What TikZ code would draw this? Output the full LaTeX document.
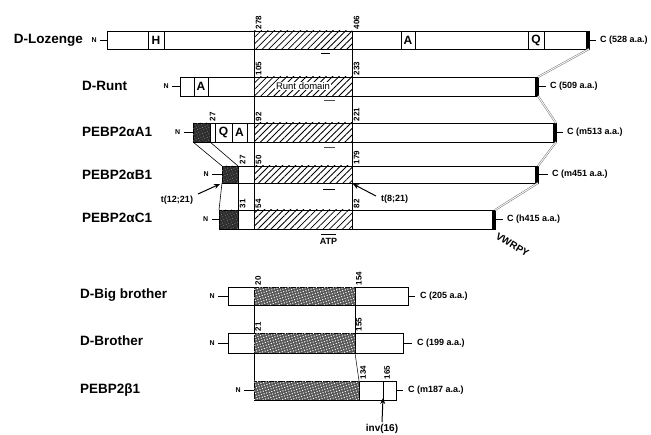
\documentclass[tikz,border=0pt]{standalone}
\usepackage{fontspec}
\setmainfont{Liberation Sans}
\usetikzlibrary{patterns.meta,arrows.meta}
\begin{document}
\begin{tikzpicture}[x=1pt,y=-1pt,
  bar/.style={draw=black,fill=white,line width=0.9pt,inner sep=0pt,outer sep=0pt,anchor=north west},
  lbox/.style={draw=black,line width=0.9pt,inner sep=0pt,outer sep=0pt,anchor=north west,font=\fontsize{12}{12}\selectfont\bfseries},
  box/.style={draw=black,line width=0.9pt},
  hatch/.style={pattern={Lines[angle=45,distance=4.6pt,line width=0.8pt]}},
  darkfill/.style={fill=black!82},
  darkdots/.style={pattern={Dots[radius=0.45pt,distance=2.8pt,angle=25]},pattern color=black!40},
  grain/.style={fill=black!66},
  graindots/.style={pattern={Dots[radius=0.7pt,distance=2.7pt,angle=17]},pattern color=white},
  endbar/.style={line width=2.6pt},
  tick/.style={line width=0.8pt},
  rowlab/.style={font=\fontsize{13.5}{14}\selectfont\bfseries,inner sep=0pt,anchor=base west},
  clab/.style={font=\fontsize{9}{10}\selectfont\bfseries,inner sep=0pt,anchor=west},
  nlab/.style={font=\fontsize{7}{8}\selectfont\bfseries,inner sep=0pt,anchor=east},
  num/.style={font=\fontsize{8}{9}\selectfont\bfseries,inner sep=0pt,rotate=90,anchor=west},
  link/.style={draw=black!55,double=white,double distance=0.9pt,line width=0.5pt},
  guide/.style={line width=0.5pt},
  small/.style={font=\fontsize{9}{10}\selectfont\bfseries,inner sep=0pt},
  barmark/.style={line width=0.9pt},
  arr/.style={-{Stealth[length=6pt,width=5pt]},line width=1pt},
]
\useasboundingbox (0,0) rectangle (651,435);

% guide lines
\draw[guide] (254,31) -- (254,229);
\draw[guide] (352,31) -- (352,229);

% ---------- D-Lozenge ----------
\node[bar,minimum width=482pt,minimum height=18pt] (loz) at (107,31) {};
\draw[box,hatch] (254,31) rectangle (352,49);
\node[lbox,minimum width=16pt,minimum height=18pt] (lozH) at (148,31) {H};
\node[lbox,minimum width=14pt,minimum height=18pt] (lozA) at (401,31) {A};
\node[lbox,minimum width=16pt,minimum height=18pt] (lozQ) at (528,31) {Q};
\draw[endbar] ([xshift=-1.3pt]loz.north east) -- ([xshift=-1.3pt]loz.south east);
\node[rowlab,anchor=base east] (lozL) at (83,44) {D-Lozenge};
\node[nlab] (lozN) at (97,40) {N};
\draw[tick] ([xshift=3pt]lozN.east) -- (loz.west);
\node[clab] (lozC) at (600,40) {C (528 a.a.)};
\draw[tick] (loz.east) -- ([xshift=-4pt]lozC.west);
\node[num] (n278) at (258.5,29.5) {278};
\node[num] (n406) at (356.5,29.5) {406};
\draw[barmark] (321,53) -- (330,53);

% ---------- D-Runt ----------
\node[bar,minimum width=358pt,minimum height=19pt] (runt) at (180,77) {};
\draw[box,hatch] (254,77) rectangle (352,96);
\node[font=\fontsize{9.5}{10}\selectfont,fill=white,inner sep=0.6pt] (rdom) at (303,86) {Runt domain};
\node[lbox,minimum width=14pt,minimum height=19pt] (runtA) at (194,77) {A};
\draw[endbar] ([xshift=-1.3pt]runt.north east) -- ([xshift=-1.3pt]runt.south east);
\node[rowlab] (runtL) at (82,91) {D-Runt};
\node[nlab] (runtN) at (169,86.5) {N};
\draw[tick] ([xshift=3pt]runtN.east) -- (runt.west);
\node[clab] (runtC) at (550,86.5) {C (509 a.a.)};
\draw[tick] (runt.east) -- ([xshift=-4pt]runtC.west);
\node[num] (n105) at (258.5,75.5) {105};
\node[num] (n233) at (356.5,75.5) {233};
\draw[line width=0.6pt,black!70] (324,100) -- (335,100);

% ---------- PEBP2aA1 ----------
\node[bar,minimum width=363pt,minimum height=19pt] (aone) at (193,123) {};
\draw[box,darkfill] (193,123) rectangle (210,142);
\path[darkdots] (193,123) rectangle (210,142);
\coordinate (aoneD) at (210,142);
\node[lbox,minimum width=17pt,minimum height=19pt] (aoneQ) at (215,123) {Q};
\node[lbox,minimum width=15pt,minimum height=19pt] (aoneA) at (232,123) {A};
\draw[box,hatch] (254,123) rectangle (352,142);
\draw[endbar] ([xshift=-1.3pt]aone.north east) -- ([xshift=-1.3pt]aone.south east);
\node[rowlab] (aoneL) at (82,137) {PEBP2αA1};
\node[nlab] (aoneN) at (180.5,132.5) {N};
\draw[tick] ([xshift=3pt]aoneN.east) -- (aone.west);
\node[clab] (aoneC) at (567,132.5) {C (m513 a.a.)};
\draw[tick] (aone.east) -- ([xshift=-4pt]aoneC.west);
\node[num] (n27a) at (212.5,121.5) {27};
\node[num] (n92) at (258.5,121.5) {92};
\node[num] (n221) at (356.5,121.5) {221};
\draw[line width=0.6pt,black!70] (324,147) -- (335,147);

% ---------- PEBP2aB1 ----------
\node[bar,minimum width=316pt,minimum height=17pt] (bone) at (222,166) {};
\draw[box,darkfill] (222,166) rectangle (238,183);
\path[darkdots] (222,166) rectangle (238,183);
\coordinate (boneDt) at (238,166);
\coordinate (boneDb) at (238,183);
\draw[box,hatch] (254,166) rectangle (352,183);
\draw[endbar] ([xshift=-1.3pt]bone.north east) -- ([xshift=-1.3pt]bone.south east);
\node[rowlab] (boneL) at (82,180) {PEBP2αB1};
\node[nlab] (boneN) at (209,174.5) {N};
\draw[tick] ([xshift=3pt]boneN.east) -- (bone.west);
\node[clab] (boneC) at (552,174.5) {C (m451 a.a.)};
\draw[tick] (bone.east) -- ([xshift=-4pt]boneC.west);
\node[num] (n27b) at (242.5,164.5) {27};
\node[num] (n50) at (258.5,164.5) {50};
\node[num] (n179) at (356.5,164.5) {179};
\draw[barmark] (323,189) -- (335,189);
\node[small] (t1221) at (177,200) {t(12;21)};
\coordinate (t1221s) at (198,194);
\draw[arr] (t1221s) -- ([shift={(-2,1)}]bone.south west);
\node[small,anchor=west] (t821) at (381,199) {t(8;21)};
\coordinate (t821s) at (376,196);
\coordinate (t821e) at (353,184);
\draw[arr] (t821s) -- (t821e);

% ---------- PEBP2aC1 ----------
\node[bar,minimum width=276pt,minimum height=19pt] (cone) at (219,210) {};
\draw[box,darkfill] (219,210) rectangle (238,229);
\path[darkdots] (219,210) rectangle (238,229);
\coordinate (coneDt) at (238,210);
\draw[box,hatch] (254,210) rectangle (352,229);
\draw[endbar] ([xshift=-1.3pt]cone.north east) -- ([xshift=-1.3pt]cone.south east);
\node[rowlab] (coneL) at (82,223) {PEBP2αC1};
\node[nlab] (coneN) at (208.5,219.5) {N};
\draw[tick] ([xshift=3pt]coneN.east) -- (cone.west);
\node[clab] (coneC) at (507,219.5) {C (h415 a.a.)};
\draw[tick] (cone.east) -- ([xshift=-4pt]coneC.west);
\node[num] (n31) at (242.5,208.5) {31};
\node[num] (n54) at (258.5,208.5) {54};
\node[num] (n82) at (356.5,208.5) {82};
\draw[barmark] (321,234) -- (336,234);
\node[small] (atp) at (328.5,241.5) {ATP};
\node[font=\fontsize{10}{11}\selectfont\bfseries,inner sep=0pt,rotate=-31] (vwrpy) at (512.5,244.5) {VWRPY};

% connectors between alpha rows
\draw[link] (loz.south east) -- (runt.north east);
\draw[link] (runt.south east) -- (aone.north east);
\draw[link] (aone.south east) -- (bone.north east);
\draw[link] (bone.south east) -- (cone.north east);
\draw[line width=0.6pt] (aone.south west) -- (bone.north west);
\draw[line width=0.6pt] (aoneD) -- (boneDt);
\draw[line width=0.6pt] (bone.south west) -- (cone.north west);
\draw[line width=0.6pt] (boneDb) -- (coneDt);

% ---------- D-Big brother ----------
\coordinate (g1) at (254,305);
\coordinate (g2) at (254,381);
\draw[guide] (g1) -- (g2);
\node[bar,minimum width=180pt,minimum height=18pt] (bb) at (228,287) {};
\draw[box,grain] (254,287) rectangle (355,305);
\path[graindots] (254,287) rectangle (355,305);
\coordinate (bbR) at (355,305);
\node[rowlab] (bbL) at (80,299) {D-Big brother};
\node[nlab] (bbN) at (215,296) {N};
\draw[tick] ([xshift=3pt]bbN.east) -- (bb.west);
\node[clab] (bbC) at (420,296) {C (205 a.a.)};
\draw[tick] (bb.east) -- ([xshift=-5pt]bbC.west);
\node[num] (n20) at (258,285.5) {20};
\node[num] (n154) at (359,285.5) {154};

% ---------- D-Brother ----------
\node[bar,minimum width=175pt,minimum height=20pt] (br) at (228,333) {};
\draw[box,grain] (254,333) rectangle (355,353);
\path[graindots] (254,333) rectangle (355,353);
\coordinate (brRt) at (355,333);
\coordinate (brRb) at (355,353);
\node[rowlab] (brL) at (80,346) {D-Brother};
\node[nlab] (brN) at (215,343) {N};
\draw[tick] ([xshift=3pt]brN.east) -- (br.west);
\node[clab] (brC) at (417,343) {C (199 a.a.)};
\draw[tick] (br.east) -- ([xshift=-5pt]brC.west);
\node[num] (n21) at (258,331.5) {21};
\node[num] (n155) at (359,331.5) {155};

% ---------- PEBP2b1 ----------
\node[bar,minimum width=142pt,minimum height=19pt] (bta) at (254,381) {};
\draw[box,grain] (254,381) rectangle (359,400);
\path[graindots] (254,381) rectangle (359,400);
\coordinate (btaRt) at (359,381);
\coordinate (btaDiv) at (383,381);
\coordinate (btaDivb) at (383,400);
\draw[box] (btaDiv) -- (btaDivb);
\node[rowlab] (btaL) at (80,394) {PEBP2β1};
\node[nlab] (btaN) at (241,390.5) {N};
\draw[tick] ([xshift=3pt]btaN.east) -- (bta.west);
\node[clab] (btaC) at (408,390.5) {C (m187 a.a.)};
\draw[tick] (bta.east) -- ([xshift=-5pt]btaC.west);
\node[num] (n134) at (363,379.5) {134};
\node[num] (n165) at (387,379.5) {165};
\node[font=\fontsize{10}{11}\selectfont\bfseries,inner sep=0pt] (inv) at (382,429) {inv(16)};
\draw[arr] (inv.north) ++(0,-2) coordinate (invs) -- ([yshift=2pt]btaDivb);

% lower guides
\draw[guide] (bbR) -- (brRt);
\draw[guide] (brRb) -- (btaRt);
\end{tikzpicture}
\end{document}
